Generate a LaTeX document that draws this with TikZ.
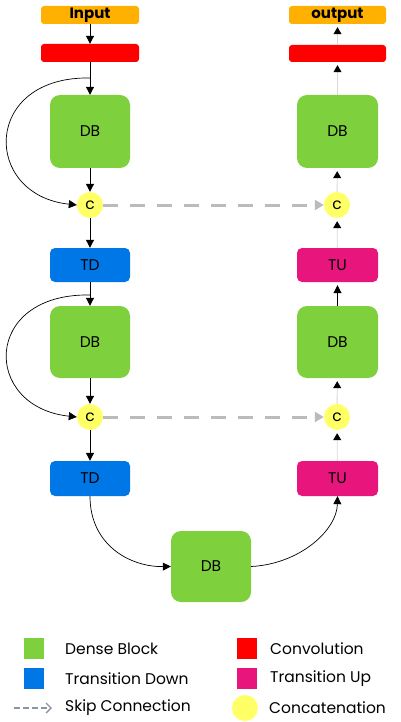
\documentclass[tikz,border=0pt]{standalone}
\usepackage{fontspec}
\setmainfont{Poppins}
\usetikzlibrary{arrows.meta}
\definecolor{cOrange}{HTML}{FFB000}
\definecolor{cRed}{HTML}{FF0000}
\definecolor{cGreen}{HTML}{7ED03C}
\definecolor{cBlue}{HTML}{0077E6}
\definecolor{cMag}{HTML}{E8157D}
\definecolor{cYel}{HTML}{FFFF66}
\definecolor{cSkip}{HTML}{BBBBBB}
\definecolor{cLeg}{HTML}{8A94A6}
\definecolor{cFaint}{HTML}{D8D8D8}
\tikzset{
  every node/.style={font=\fontsize{15.5}{17}\selectfont, inner sep=0pt},
  iobox/.style={rectangle, rounded corners=3pt, fill=cOrange, minimum width=98pt, minimum height=18pt, font=\fontsize{15}{17}\selectfont\bfseries},
  convbox/.style={rectangle, rounded corners=3pt, fill=cRed, minimum width=98pt, minimum height=18pt},
  dbbox/.style={rectangle, rounded corners=10pt, fill=cGreen, minimum width=80pt, minimum height=73pt},
  tdbox/.style={rectangle, rounded corners=5pt, fill=cBlue, minimum width=80pt, minimum height=34pt},
  tubox/.style={rectangle, rounded corners=5pt, fill=cMag, minimum width=81pt, minimum height=34pt},
  catnode/.style={circle, fill=cYel, minimum size=26pt},
  legsq/.style={rectangle, minimum width=20pt, minimum height=21pt},
  legtext/.style={anchor=west},
  flow/.style={line width=1pt, -{Triangle[length=8pt,width=8pt]}},
  upflow/.style={line width=0.8pt, cFaint, shorten >=3pt, -{Triangle[length=7pt,width=8pt,black]}},
  loopflow/.style={line width=0.7pt, -{Triangle[length=8pt,width=8pt]}},
  skip/.style={line width=3pt, cSkip, dash pattern=on 15pt off 12pt, -{Triangle[length=9pt,width=10pt]}},
}
\begin{document}
\begin{tikzpicture}[x=1pt,y=-1pt]
\useasboundingbox (0,0) rectangle (400,722);
% left column
\node[iobox] (in) at (90,15) {Input};
\node[convbox] (convL) at (90,53) {};
\node[dbbox] (dbL1) at (90,131.5) {DB};
\node[catnode] (cL1) at (90,205) {c};
\node[tdbox] (td1) at (90,265) {TD};
\node[dbbox, minimum height=72pt] (dbL2) at (90,342) {DB};
\node[catnode] (cL2) at (90,417) {c};
\node[tdbox, minimum height=35pt] (td2) at (90,478.5) {TD};
% bottom
\node[dbbox, minimum height=71pt] (dbB) at (211,566.5) {DB};
% right column
\node[tubox, minimum height=35pt] (tu2) at (337.5,478.5) {TU};
\node[catnode] (cR2) at (337,417) {c};
\node[dbbox, minimum width=81pt, minimum height=72pt] (dbR2) at (337.5,342) {DB};
\node[tubox] (tu1) at (337.5,265) {TU};
\node[catnode] (cR1) at (337,205) {c};
\node[dbbox, minimum width=81pt] (dbR1) at (337.5,131.5) {DB};
\node[convbox, minimum width=97pt, minimum height=17pt] (convR) at (337.5,53.5) {};
\node[iobox, minimum width=97pt] (out) at (337.5,15) {output};
% left flow
\draw[flow] (in) -- (convL);
\draw[flow] (convL) -- (dbL1);
\draw[flow] (dbL1) -- (cL1);
\draw[flow] (cL1) -- (td1);
\draw[flow] (td1) -- (dbL2);
\draw[flow] (dbL2) -- (cL2);
\draw[flow] (cL2) -- (td2);
% skip loops
\coordinate (s1) at (90,78);
\coordinate (s2) at (90,295);
\draw[loopflow] (s1) .. controls (-18,76) and (-18,195) .. (cL1.west);
\draw[loopflow] (s2) .. controls (-18,293) and (-18,407) .. (cL2.west);
% bottom curves
\draw[loopflow] (td2.south) .. controls (90,545) and (130,567) .. (dbB.west);
\draw[loopflow] (dbB.east) .. controls (300,564) and (337,530) .. (tu2.south);
% right flow
\draw[upflow] (tu2) -- (cR2);
\draw[upflow] (cR2) -- (dbR2);
\draw[flow, line width=0.9pt, shorten >=3pt] (dbR2) -- (tu1);
\draw[upflow] (tu1) -- (cR1);
\draw[upflow] (cR1) -- (dbR1);
\draw[upflow] (dbR1) -- (convR);
\draw[upflow] (convR) -- (out);
% skip connections
\draw[skip] (cL1) -- (cR1);
\draw[skip] (cL2) -- (cR2);
% legend
\node[legsq, fill=cGreen] (lg1) at (34,648.5) {};
\node[legtext] (lt1) at (65,648.5) {Dense Block};
\node[legsq, fill=cBlue] (lg2) at (34,678.5) {};
\node[legtext] (lt2) at (65,678.5) {Transition Down};
\coordinate (ls1) at (14,708);
\coordinate (ls2) at (52,708);
\draw[cLeg, line width=1.3pt, dash pattern=on 6pt off 3pt, -{Straight Barb[length=5pt,width=10pt]}] (ls1) -- (ls2);
\node[legtext] (lt3) at (65,708) {Skip Connection};
\node[legsq, fill=cRed] (lg4) at (247,648.5) {};
\node[legtext] (lt4) at (270,648.5) {Convolution};
\node[legsq, fill=cMag] (lg5) at (247,678.5) {};
\node[legtext] (lt5) at (270,678.5) {Transition Up};
\node[catnode] (lg6) at (245,708) {};
\node[legtext] (lt6) at (269,708) {Concatenation};
\end{tikzpicture}
\end{document}
